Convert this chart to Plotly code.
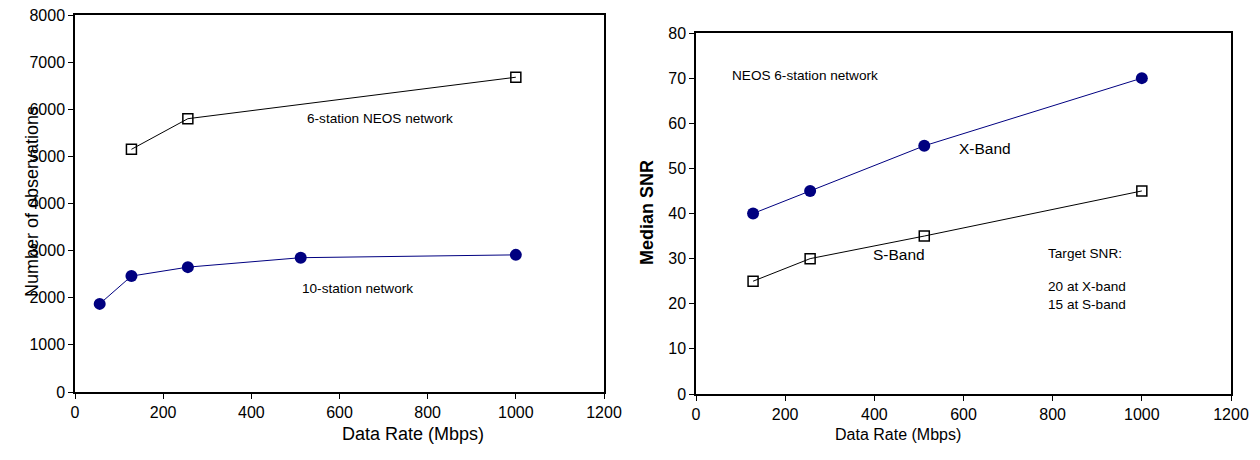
import plotly.graph_objects as go

# Left panel data
neos6_rate = [128, 256, 1000]
neos6_obs = [5150, 5800, 6680]
net10_rate = [56, 128, 256, 512, 1000]
net10_obs = [1870, 2460, 2650, 2850, 2910]

# Right panel data
snr_rate = [128, 256, 512, 1000]
xband_snr = [40, 45, 55, 70]
sband_snr = [25, 30, 35, 45]

# Tick values
x_ticks = [0, 200, 400, 600, 800, 1000, 1200]
obs_ticks = [0, 1000, 2000, 3000, 4000, 5000, 6000, 7000, 8000]
snr_ticks = [0, 10, 20, 30, 40, 50, 60, 70, 80]

NAVY = "#000080"
FONT = "Liberation Sans, Arial, sans-serif"

# page has an 8px body margin; size the figure to fit the window
OFF = 8
W, H = 1260 - OFF, 460 - OFF


def px(sx):
    return (sx - OFF) / W


def py(sy):
    return 1 - (sy - OFF) / H


fig = go.Figure()

sq = dict(symbol="square-open", size=10, color="black", line=dict(width=1.5, color="black"))
circ = dict(symbol="circle", size=12, color=NAVY)

fig.add_trace(go.Scatter(x=neos6_rate, y=neos6_obs, mode="lines+markers",
                         line=dict(color="black", width=1), marker=sq,
                         xaxis="x", yaxis="y", showlegend=False))
fig.add_trace(go.Scatter(x=net10_rate, y=net10_obs, mode="lines+markers",
                         line=dict(color=NAVY, width=1), marker=circ,
                         xaxis="x", yaxis="y", showlegend=False))
fig.add_trace(go.Scatter(x=snr_rate, y=xband_snr, mode="lines+markers",
                         line=dict(color=NAVY, width=1), marker=circ,
                         xaxis="x2", yaxis="y2", showlegend=False))
fig.add_trace(go.Scatter(x=snr_rate, y=sband_snr, mode="lines+markers",
                         line=dict(color="black", width=1), marker=sq,
                         xaxis="x2", yaxis="y2", showlegend=False))

ax_common = dict(showgrid=False, zeroline=False, showline=True, linecolor="black",
                 linewidth=1.5, mirror=True, ticks="outside", ticklen=5,
                 tickcolor="black", tickwidth=1, automargin=False,
                 ticklabeloverflow="allow", tickmode="array",
                 tickfont=dict(family=FONT, size=16, color="black"))

fig.update_layout(
    width=W, height=H,
    margin=dict(l=0, r=0, t=0, b=0),
    paper_bgcolor="white", plot_bgcolor="white",
    xaxis=dict(domain=[px(75), px(604)], range=[0, 1200], tickvals=x_ticks, anchor="y", **ax_common),
    yaxis=dict(domain=[py(392), py(15)], range=[0, 8000.5], tickvals=obs_ticks, anchor="x", **ax_common),
    xaxis2=dict(domain=[px(696), px(1231)], range=[0, 1200], tickvals=x_ticks, anchor="y2", **ax_common),
    yaxis2=dict(domain=[py(394), py(33)], range=[0, 80], tickvals=snr_ticks, anchor="x2", **ax_common),
)

ann_font = dict(family=FONT, size=13.6, color="black")
band_font = dict(family=FONT, size=15.5, color="black")
annotations = [
    dict(text="6-station NEOS network", x=692, y=5805, xref="x", yref="y", showarrow=False, font=ann_font),
    dict(text="10-station network", x=640, y=2195, xref="x", yref="y", showarrow=False, font=ann_font),
    dict(text="NEOS 6-station network", x=244, y=70.5, xref="x2", yref="y2", showarrow=False, font=ann_font),
    dict(text="X-Band", x=648, y=54.5, xref="x2", yref="y2", showarrow=False, font=band_font),
    dict(text="S-Band", x=455, y=31.0, xref="x2", yref="y2", showarrow=False, font=band_font),
    dict(text="Target SNR:", x=785, y=31.2, xref="x2", yref="y2", showarrow=False,
         xanchor="left", font=ann_font),
    dict(text="20 at X-band", x=785, y=23.9, xref="x2", yref="y2", showarrow=False,
         xanchor="left", font=ann_font),
    dict(text="15 at S-band", x=785, y=19.9, xref="x2", yref="y2", showarrow=False,
         xanchor="left", font=ann_font),
    # axis titles
    dict(text="Data Rate (Mbps)", x=px(340), y=py(446), xref="paper", yref="paper",
         showarrow=False, font=dict(family=FONT, size=18, color="black")),
    dict(text="Data Rate (Mbps)", x=px(963), y=py(445), xref="paper", yref="paper",
         showarrow=False, font=dict(family=FONT, size=16, color="black")),
    dict(text="Number of observations", x=px(20), y=py(202), xref="paper", yref="paper",
         showarrow=False, textangle=-90, font=dict(family=FONT, size=18, color="black")),
    dict(text="<b>Median SNR</b>", x=px(647), y=py(213), xref="paper", yref="paper",
         showarrow=False, textangle=-90, font=dict(family=FONT, size=18, color="black")),
]
fig.update_layout(annotations=annotations)

fig.write_html("out.html")
